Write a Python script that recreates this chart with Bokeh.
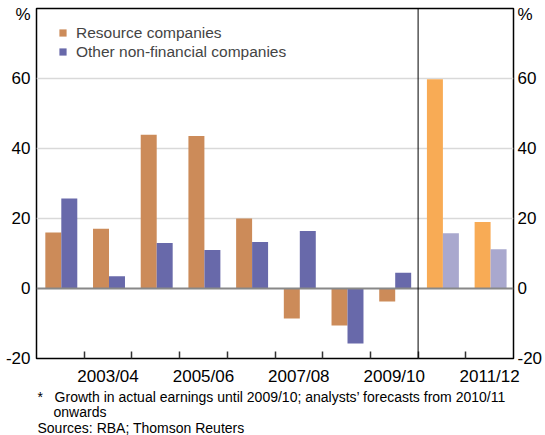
from bokeh.plotting import figure
from bokeh.models import (FixedTicker, LinearAxis, Range1d, Span, Legend, LegendItem,
                          Title, ColumnDataSource)
from bokeh.transform import dodge
from bokeh.embed import file_html
from bokeh.resources import INLINE

# ---- data ----
years = ["2002/03", "2003/04", "2004/05", "2005/06", "2006/07",
         "2007/08", "2008/09", "2009/10", "2010/11", "2011/12"]
resource = [16.0, 17.1, 43.9, 43.6, 20.0, -8.6, -10.6, -3.7, 59.8, 19.0]
other = [25.7, 3.5, 13.0, 11.0, 13.3, 16.4, -15.7, 4.5, 15.8, 11.2]
forecast_from = "2010/11"
y_ticks = [-20, 0, 20, 40, 60]
grid_ticks = [20, 40, 60]
notes = ["*\u00a0\u00a0\u00a0Growth in actual earnings until 2009/10; analysts\u2019 forecasts from 2010/11",
         "onwards",
         "Sources: RBA; Thomson Reuters"]

FONT = "Liberation Sans"
C_RES = "#CC8B59"
C_OTH = "#6869AA"
C_RES_F = "#F8AB55"
C_OTH_F = "#A9A8CE"

n = len(years)
fi = years.index(forecast_from)
xc = [i + 0.5 for i in range(n)]

act = ColumnDataSource(dict(x=xc[:fi], res=resource[:fi], oth=other[:fi]))
fc = ColumnDataSource(dict(x=xc[fi:], res=resource[fi:], oth=other[fi:]))

p = figure(width=545, height=435, x_range=Range1d(0, n), y_range=Range1d(-20, 80),
           output_backend="svg", toolbar_location=None,
           min_border_top=8, min_border_bottom=0, min_border_left=36, min_border_right=30)
p.outline_line_color = "black"
p.outline_line_width = 1.5
p.background_fill_color = "white"
p.border_fill_color = "white"

bw = 0.335
shift = 0.02
r_res = p.vbar(x=dodge("x", -bw / 2 + shift, range=p.x_range), top="res", bottom=0, width=bw,
               source=act, fill_color=C_RES, line_color=None)
r_oth = p.vbar(x=dodge("x", bw / 2 + shift, range=p.x_range), top="oth", bottom=0, width=bw,
               source=act, fill_color=C_OTH, line_color=None)
p.vbar(x=dodge("x", -bw / 2 + shift, range=p.x_range), top="res", bottom=0, width=bw,
       source=fc, fill_color=C_RES_F, line_color=None)
p.vbar(x=dodge("x", bw / 2 + shift, range=p.x_range), top="oth", bottom=0, width=bw,
       source=fc, fill_color=C_OTH_F, line_color=None)

# grid
p.xgrid.visible = False
p.ygrid.ticker = FixedTicker(ticks=grid_ticks)
p.ygrid.grid_line_color = "#D9D9D9"
p.ygrid.grid_line_width = 1.5

# zero line and forecast divider
p.add_layout(Span(location=0, dimension="width", line_color="#888888", line_width=2))
p.add_layout(Span(location=fi, dimension="height", line_color="black", line_width=1))

# y axes
pct_pos = 78.4
yt = FixedTicker(ticks=y_ticks + [pct_pos])
ov = {t: str(t) for t in y_ticks}
ov[pct_pos] = "%"
p.yaxis[0].ticker = yt
p.yaxis[0].major_label_overrides = ov
right = LinearAxis(ticker=yt, major_label_overrides=ov)
p.add_layout(right, "right")
for ax in p.yaxis:
    ax.axis_line_color = None
    ax.major_tick_line_color = None
    ax.minor_tick_line_color = None
    ax.major_tick_in = 0
    ax.major_tick_out = 0
    ax.minor_tick_out = 0
    ax.major_label_text_font = FONT
    ax.major_label_text_font_size = "17px"
    ax.major_label_text_color = "black"
p.yaxis[0].major_label_standoff = 6
right.major_label_standoff = 4

# x axis
label_pos = [i + 0.5 for i in range(1, n, 2)]
p.xaxis.ticker = FixedTicker(ticks=label_pos, minor_ticks=list(range(1, n)))
p.xaxis.major_label_overrides = {i + 0.5: years[i] for i in range(1, n, 2)}
p.xaxis.axis_line_color = None
p.xaxis.major_tick_in = 0
p.xaxis.major_tick_out = 0
p.xaxis.major_tick_line_color = None
p.xaxis.minor_tick_in = 7
p.xaxis.minor_tick_out = 0
p.xaxis.minor_tick_line_color = "#333333"
p.xaxis.minor_tick_line_width = 1.5
p.xaxis.major_label_text_font = FONT
p.xaxis.major_label_text_font_size = "17px"
p.xaxis.major_label_text_color = "black"
p.xaxis.major_label_standoff = 8

# legend
legend = Legend(items=[LegendItem(label="Resource companies", renderers=[r_res]),
                       LegendItem(label="Other non-financial companies", renderers=[r_oth])],
                location=(22, 297), label_text_font=FONT, label_text_font_size="15.5px",
                glyph_width=9, glyph_height=9, label_standoff=9, spacing=0,
                padding=0, margin=0, border_line_color=None, background_fill_alpha=0,
                label_height=19)
p.add_layout(legend)

# footnotes (stacked below the x axis)
offsets = [1, 17, 1]
standoffs = [-3, -3, -1]
for t, off, so in zip(notes, offsets, standoffs):
    p.add_layout(Title(text=t, align="left", offset=off, text_font=FONT,
                       text_font_size="14px", text_font_style="normal",
                       text_color="black", standoff=so), "below")

open("out.html", "w").write(file_html(p, INLINE))
